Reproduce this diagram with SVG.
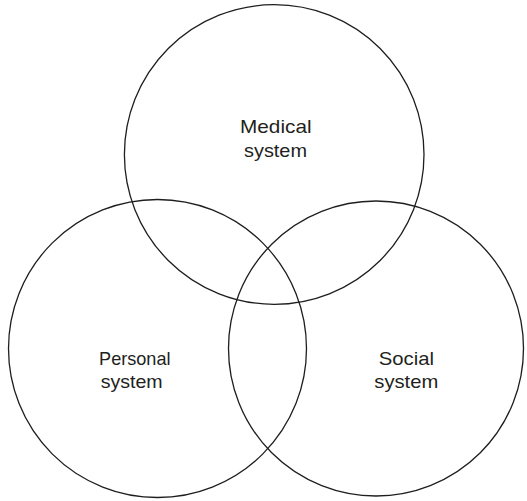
<svg xmlns="http://www.w3.org/2000/svg" width="527" height="501" viewBox="0 0 527 501">
<style>
.c{fill:none;stroke:#1e1e1e;stroke-width:1.3}
.t{font-family:"Liberation Sans",Arial,sans-serif;font-size:19px;fill:#231f20;text-anchor:middle}
</style>
<rect width="527" height="501" fill="#fff"/>
<g id="medical">
<circle class="c" cx="274.2" cy="154.5" r="149.8"/>
<text class="t"><tspan x="275.8" y="133.3" textLength="71.5" lengthAdjust="spacingAndGlyphs">Medical</tspan><tspan x="275.5" y="156.7" textLength="63" lengthAdjust="spacingAndGlyphs">system</tspan></text>
</g>
<g id="personal">
<circle class="c" cx="157.5" cy="348.5" r="149"/>
<text class="t"><tspan x="134.8" y="365" textLength="71.5" lengthAdjust="spacingAndGlyphs">Personal</tspan><tspan x="131.7" y="387.7" textLength="62" lengthAdjust="spacingAndGlyphs">system</tspan></text>
</g>
<g id="social">
<circle class="c" cx="376" cy="348.5" r="147.5"/>
<text class="t"><tspan x="406.3" y="365" textLength="55.3" lengthAdjust="spacingAndGlyphs">Social</tspan><tspan x="406.3" y="387.7" textLength="64" lengthAdjust="spacingAndGlyphs">system</tspan></text>
</g>
<g id="connectors"></g>
</svg>
